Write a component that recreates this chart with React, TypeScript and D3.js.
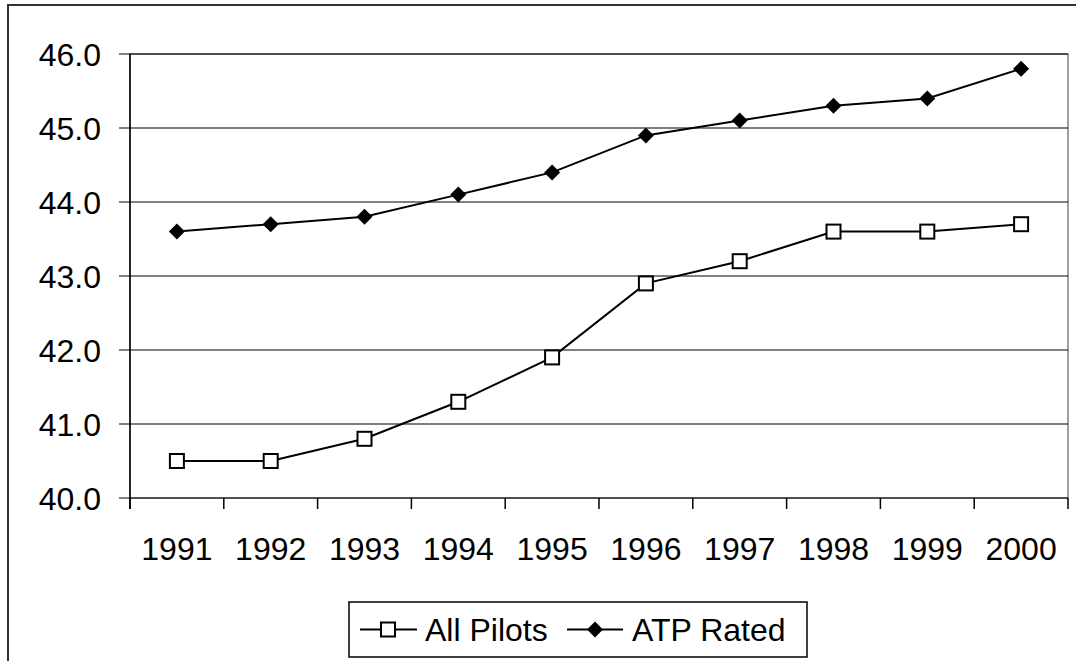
import React from "react";
import * as d3 from "d3";

const years = ["1991", "1992", "1993", "1994", "1995", "1996", "1997", "1998", "1999", "2000"];
const allPilots = [40.5, 40.5, 40.8, 41.3, 41.9, 42.9, 43.2, 43.6, 43.6, 43.7];
const atpRated = [43.6, 43.7, 43.8, 44.1, 44.4, 44.9, 45.1, 45.3, 45.4, 45.8];
const yTicks = [40, 41, 42, 43, 44, 45, 46];
const seriesNames = ["All Pilots", "ATP Rated"];

const W = 1076;
const H = 661;
const left = 130;
const right = 1068;
const top = 54;
const bottom = 498;
const FONT = "Arial, 'Liberation Sans', sans-serif";
const FS = 32;

export default function App() {
  const x = d3.scaleBand<string>().domain(years).range([left, right]);
  const y = d3.scaleLinear().domain([40, 46]).range([bottom, top]);
  const line = d3
    .line<number>()
    .x((_, i) => (x(years[i]) as number) + x.bandwidth() / 2)
    .y((d) => y(d));
  const cx = (i: number) => (x(years[i]) as number) + x.bandwidth() / 2;
  const boundaries = d3.range(years.length + 1).map((i) => left + i * x.step());

  const square = (px: number, py: number, key: string) => (
    <rect key={key} x={px - 7} y={py - 7} width={14} height={14} fill="#fff" stroke="#000" strokeWidth={2} />
  );
  const diamond = (px: number, py: number, key: string) => (
    <path key={key} d={`M${px},${py - 8}L${px + 8},${py}L${px},${py + 8}L${px - 8},${py}Z`} fill="#000" />
  );

  return (
    <svg width={W} height={H} style={{ position: "absolute", left: 0, top: 0, background: "#fff" }} fontFamily={FONT}>
      <rect x={8} y={5} width={W + 20} height={H + 20} fill="#fff" stroke="#333" strokeWidth={2} />
      {/* plot area border */}
      <rect x={left} y={top} width={right - left} height={bottom - top} fill="none" stroke="#808080" strokeWidth={1.5} />
      {/* gridlines */}
      {yTicks.map((t) => (
        <line key={"g" + t} x1={left - 11} x2={right} y1={y(t)} y2={y(t)} stroke="#000" strokeWidth={1} />
      ))}
      {/* y axis */}
      <line x1={left} x2={left} y1={top} y2={bottom + 11} stroke="#000" strokeWidth={1.5} />
      {boundaries.map((b, i) => (
        <line key={"xt" + i} x1={b} x2={b} y1={bottom} y2={bottom + 11} stroke="#000" strokeWidth={1.5} />
      ))}
      {yTicks.map((t) => (
        <text key={"yl" + t} x={101} y={y(t)} dy="0.36em" textAnchor="end" fontSize={FS} fill="#000">
          {t.toFixed(1)}
        </text>
      ))}
      {years.map((yr, i) => (
        <text key={"xl" + yr} x={cx(i)} y={560} textAnchor="middle" fontSize={FS} fill="#000">
          {yr}
        </text>
      ))}
      {/* series */}
      <path d={line(allPilots) || ""} fill="none" stroke="#000" strokeWidth={2} />
      <path d={line(atpRated) || ""} fill="none" stroke="#000" strokeWidth={2} />
      {allPilots.map((v, i) => square(cx(i), y(v), "s" + i))}
      {atpRated.map((v, i) => diamond(cx(i), y(v), "d" + i))}
      {/* legend */}
      <rect x={349} y={602} width={458} height={55} fill="#fff" stroke="#000" strokeWidth={1.5} />
      <line x1={360} x2={417} y1={629.5} y2={629.5} stroke="#000" strokeWidth={2} />
      {square(388, 629.5, "ls")}
      <text x={425} y={641} fontSize={FS} fill="#000">{seriesNames[0]}</text>
      <line x1={567} x2={623} y1={629.5} y2={629.5} stroke="#000" strokeWidth={2} />
      {diamond(595, 629.5, "ld")}
      <text x={632} y={641} fontSize={FS} fill="#000">{seriesNames[1]}</text>
    </svg>
  );
}
